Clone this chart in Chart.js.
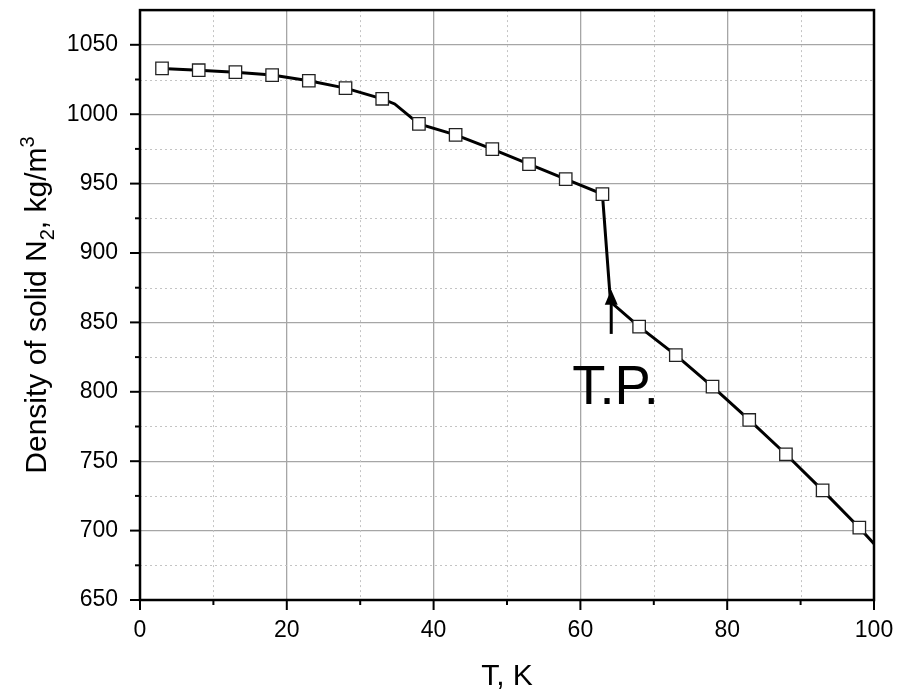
<!DOCTYPE html>
<html lang="en">
<head>
<meta charset="UTF-8">
<title>Density of solid N2</title>
<style>
  body { margin: 0; background: #fff; }
  canvas { display: block; }
</style>
</head>
<body>
<canvas id="chart" width="906" height="690"></canvas>
<script src="https://cdn.jsdelivr.net/npm/chart.js"></script>
<script>
// measured points (markers)
const markerT = [3, 8, 13, 18, 23, 28, 33, 38, 43, 48, 53, 58, 63, 68, 73, 78, 83, 88, 93, 98];
const markerRho = [1033, 1031.7, 1030.3, 1028.2, 1024.1, 1018.8, 1011.1, 993, 985.1, 974.8, 964, 953.2, 942.4, 847, 826.4, 803.7, 779.7, 755, 729, 702.1];

// the connecting curve (a few extra bends)
const lineT = [3, 8, 13, 18, 23, 28, 33, 34.7, 38, 43, 48, 53, 58, 63, 64.1, 68, 73, 78, 83, 88, 93, 98, 100];
const lineRho = [1033, 1031.7, 1030.3, 1028.2, 1024.1, 1018.8, 1011.1, 1007.4, 993, 985.1, 974.8, 964, 953.2, 942.4, 864.8, 847, 826.4, 803.7, 779.7, 755, 729, 702.1, 690.5];

const xMajor = [0, 20, 40, 60, 80, 100];
const xMinor = [10, 30, 50, 70, 90];
const yMajor = [650, 700, 750, 800, 850, 900, 950, 1000, 1050];
const yMinor = [675, 725, 775, 825, 875, 925, 975, 1025];

// arrow + label
const arrowT = 64.2, arrowFrom = 841.7, arrowTo = 873.5;
const tpLabel = 'T.P.', tpT = 58.9, tpRho = 791.5;

const FONT = "'Liberation Sans', Arial, sans-serif";

const extras = {
  id: 'extras',
  beforeDatasetsDraw(chart) {
    const {ctx, chartArea: a, scales: {x, y}} = chart;
    ctx.save();
    ctx.strokeStyle = '#c4c4c4';
    ctx.lineWidth = 1;
    ctx.setLineDash([2, 3]);
    xMinor.forEach(v => {
      const px = Math.round(x.getPixelForValue(v)) + 0.5;
      ctx.beginPath(); ctx.moveTo(px, a.top); ctx.lineTo(px, a.bottom); ctx.stroke();
    });
    yMinor.forEach(v => {
      const py = Math.round(y.getPixelForValue(v)) + 0.5;
      ctx.beginPath(); ctx.moveTo(a.left, py); ctx.lineTo(a.right, py); ctx.stroke();
    });
    ctx.restore();
  },
  afterDraw(chart) {
    const {ctx, chartArea: a, scales: {x, y}} = chart;
    ctx.save();
    // frame
    ctx.strokeStyle = '#000';
    ctx.lineWidth = 2.5;
    ctx.strokeRect(a.left, a.top, a.right - a.left, a.bottom - a.top);
    // ticks
    ctx.lineWidth = 2;
    xMajor.forEach(v => {
      const px = x.getPixelForValue(v);
      ctx.beginPath(); ctx.moveTo(px, a.bottom); ctx.lineTo(px, a.bottom + 10); ctx.stroke();
    });
    xMinor.forEach(v => {
      const px = x.getPixelForValue(v);
      ctx.beginPath(); ctx.moveTo(px, a.bottom); ctx.lineTo(px, a.bottom + 5); ctx.stroke();
    });
    yMajor.forEach(v => {
      const py = y.getPixelForValue(v);
      ctx.beginPath(); ctx.moveTo(a.left, py); ctx.lineTo(a.left - 10, py); ctx.stroke();
    });
    yMinor.forEach(v => {
      const py = y.getPixelForValue(v);
      ctx.beginPath(); ctx.moveTo(a.left, py); ctx.lineTo(a.left - 5, py); ctx.stroke();
    });

    // arrow
    const ax = x.getPixelForValue(arrowT);
    const ay0 = y.getPixelForValue(arrowFrom);
    const ay1 = y.getPixelForValue(arrowTo);
    ctx.lineWidth = 3;
    ctx.beginPath(); ctx.moveTo(ax, ay0); ctx.lineTo(ax, ay1 + 12); ctx.stroke();
    ctx.fillStyle = '#000';
    ctx.beginPath();
    ctx.moveTo(ax, ay1);
    ctx.lineTo(ax - 6.5, ay1 + 15);
    ctx.lineTo(ax + 6.5, ay1 + 15);
    ctx.closePath(); ctx.fill();

    // T.P. label
    ctx.save();
    ctx.translate(x.getPixelForValue(tpT), y.getPixelForValue(tpRho));
    ctx.scale(0.97, 1);
    ctx.font = '56px ' + FONT;
    ctx.textAlign = 'left';
    ctx.textBaseline = 'alphabetic';
    ctx.fillText(tpLabel, 0, 0);
    ctx.restore();

    // x title
    ctx.font = '30px ' + FONT;
    ctx.textAlign = 'center';
    ctx.textBaseline = 'alphabetic';
    ctx.fillText('T, K', (a.left + a.right) / 2, 685);

    // y title with sub/superscript
    const parts = [
      {t: 'Density of solid N', f: 30, dy: 0},
      {t: '2', f: 20, dy: 8},
      {t: ', kg/m', f: 30, dy: 0},
      {t: '3', f: 20, dy: -12}
    ];
    let total = 0;
    parts.forEach(p => { ctx.font = p.f + 'px ' + FONT; p.w = ctx.measureText(p.t).width; total += p.w; });
    ctx.save();
    ctx.translate(46, (a.top + a.bottom) / 2);
    ctx.rotate(-Math.PI / 2);
    ctx.textAlign = 'left';
    let cx = -total / 2;
    parts.forEach(p => {
      ctx.font = p.f + 'px ' + FONT;
      ctx.fillText(p.t, cx, p.dy);
      cx += p.w;
    });
    ctx.restore();
    ctx.restore();
  }
};

new Chart(document.getElementById('chart'), {
  type: 'scatter',
  data: {
    datasets: [
      {
        data: markerT.map((t, i) => ({x: t, y: markerRho[i]})),
        showLine: false,
        pointStyle: 'rect',
        pointRadius: 8.8,
        pointBackgroundColor: '#fff',
        pointBorderColor: '#222',
        pointBorderWidth: 1.3
      },
      {
        data: lineT.map((t, i) => ({x: t, y: lineRho[i]})),
        showLine: true,
        borderColor: '#000',
        borderWidth: 3,
        pointRadius: 0,
        tension: 0
      }
    ]
  },
  options: {
    responsive: false,
    animation: false,
    events: [],
    layout: {padding: {top: 10, right: 32, left: 0, bottom: 0}},
    plugins: {legend: {display: false}, tooltip: {enabled: false}},
    scales: {
      x: {
        type: 'linear',
        min: 0, max: 100,
        afterFit: s => { s.height = 90; s.paddingLeft = 0; s.paddingRight = 0; },
        ticks: {stepSize: 20, padding: 17, color: '#000', font: {family: FONT, size: 23},
          callback: v => String(v)},
        grid: {color: '#a6a6a6', lineWidth: 1.3, drawTicks: false},
        border: {display: false}
      },
      y: {
        min: 650, max: 1075,
        afterFit: s => { s.width = 140; s.paddingTop = 0; s.paddingBottom = 0; },
        afterBuildTicks: s => { s.ticks = s.ticks.filter(t => t.value % 50 === 0); },
        ticks: {stepSize: 50, padding: 22, color: '#000', font: {family: FONT, size: 23},
          callback: v => String(v)},
        grid: {color: '#a6a6a6', lineWidth: 1.3, drawTicks: false},
        border: {display: false}
      }
    }
  },
  plugins: [extras]
});
</script>
</body>
</html>
